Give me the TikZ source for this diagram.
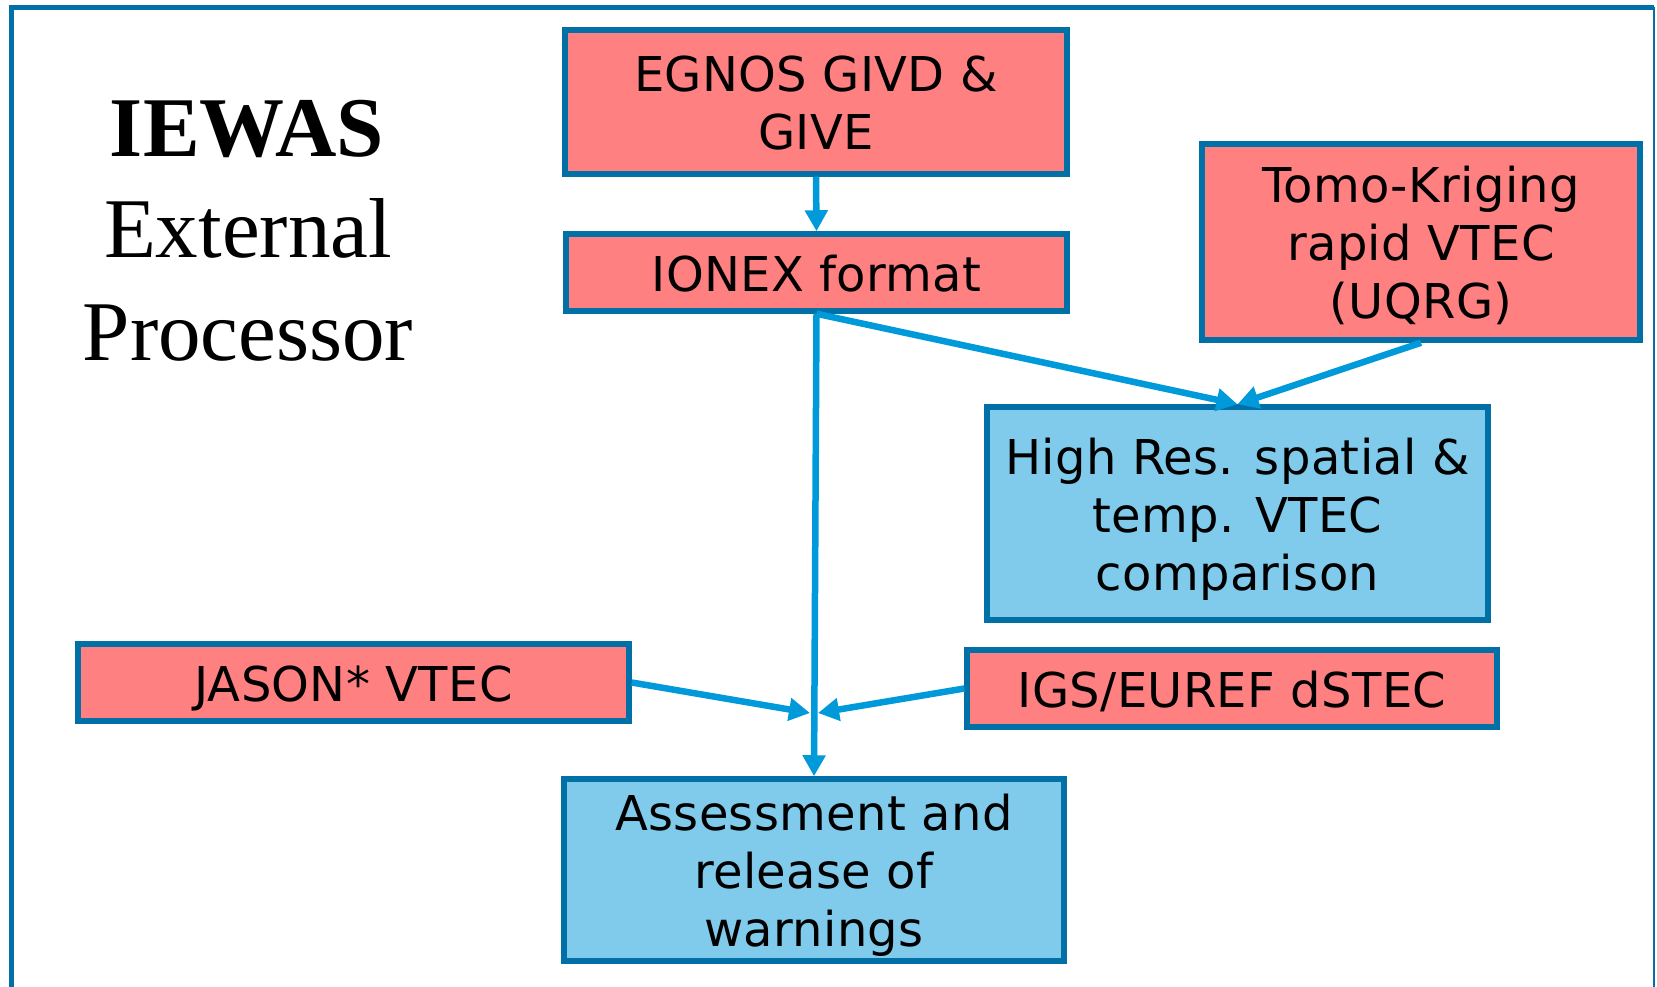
\documentclass[tikz,border=0pt]{standalone}
\usepackage{fontspec}
\setmainfont{Liberation Serif}
\newfontfamily\boxfont{DejaVu Sans}[LetterSpace=0.7]
\usetikzlibrary{arrows.meta}
\definecolor{redfill}{HTML}{FF8080}
\definecolor{bluefill}{HTML}{80CAEB}
\definecolor{edgec}{HTML}{0070A6}
\definecolor{arrowc}{HTML}{009ADB}
\newcommand\boxtext[1]{\raisebox{-7pt}[\height][\depth]{\begin{tabular}{@{}c@{}}#1\end{tabular}}}
\begin{document}
\begin{tikzpicture}[x=1pt,y=-1pt,
  box/.style={draw=edgec, line width=5.5pt, inner sep=0pt,
    font=\boxfont\fontsize{48}{58}\selectfont},
  redbox/.style={box, fill=redfill},
  bluebox/.style={box, fill=bluefill},
  conn/.style={draw=arrowc, line width=6.5pt, -{Triangle[length=21pt,width=22pt]}},
  titletext/.style={anchor=base, font=\fontsize{85}{100}\selectfont}]
\useasboundingbox[fill=white] (0,0) rectangle (1657,987);
% frame
\draw[edgec, line width=5pt] (11.5,987) -- (11.5,7.5) -- (1654,7.5);
\draw[edgec, line width=2.5pt] (1654,7.5) -- (1654,987);
% title
\node[titletext] (t1) at (247,157) {\textbf{IEWAS}};
\node[titletext] (t2) at (248,258) {External};
\node[titletext] (t3) at (248,360) {Processor};
% boxes
\node[redbox, minimum width=502pt, minimum height=144pt] (egnos) at (816,102) {\boxtext{EGNOS GIVD \&\\GIVE}};
\node[redbox, minimum width=501pt, minimum height=77pt] (ionex) at (816.5,272.5) {\boxtext{IONEX format}};
\node[redbox, minimum width=438pt, minimum height=196pt] (tomo) at (1421,242) {\boxtext{Tomo-Kriging\\rapid VTEC\\(UQRG)}};
\node[bluebox, minimum width=501pt, minimum height=213pt] (hires) at (1237.5,513.5) {\boxtext{High Res. spatial \&\\temp. VTEC\\comparison}};
\node[redbox, minimum width=551pt, minimum height=77pt] (jason) at (353.5,682.5) {\boxtext{JASON* VTEC}};
\node[redbox, minimum width=530pt, minimum height=77pt] (igs) at (1232,688.5) {\boxtext{IGS/EUREF dSTEC}};
\node[bluebox, minimum width=500pt, minimum height=182pt] (assess) at (814,870) {\boxtext{Assessment and\\release of\\warnings}};
% connectors
\coordinate (jm) at (810,713);
\coordinate (im) at (818,713);
\draw[conn] (egnos.south) -- (ionex.north);
\draw[conn] (ionex.south) -- (assess.north);
\draw[conn] (ionex.south) -- (hires.north);
\draw[conn] (tomo.south) -- (hires.north);
\draw[conn] (jason.east) -- (jm);
\draw[conn] (igs.west) -- (im);
\end{tikzpicture}
\end{document}
